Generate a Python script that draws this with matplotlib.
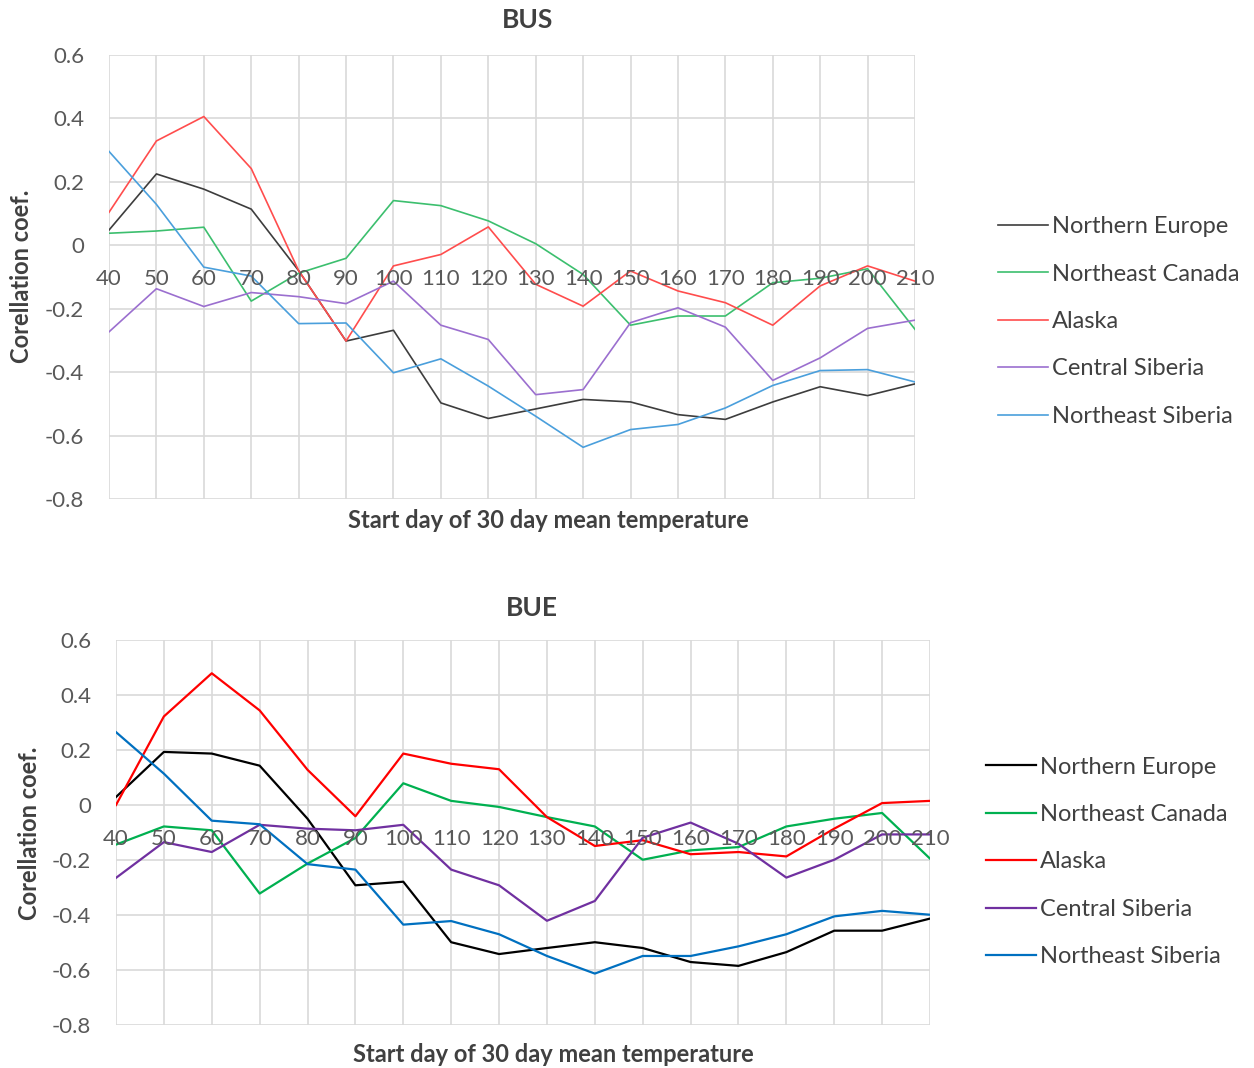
import matplotlib.pyplot as plt
import numpy as np

plt.rcParams['font.family'] = ['Lato', 'DejaVu Sans']

days = [40, 50, 60, 70, 80, 90, 100, 110, 120, 130, 140, 150, 160, 170, 180, 190, 200, 210]
regions = ['Northern Europe', 'Northeast Canada', 'Alaska', 'Central Siberia', 'Northeast Siberia']

# BUS
bus_north_europe = [0.048, 0.225, 0.177, 0.114, -0.08, -0.302, -0.268, -0.497, -0.546, -0.516,
                    -0.486, -0.494, -0.534, -0.549, -0.494, -0.446, -0.474, -0.437]
bus_ne_canada = [0.038, 0.045, 0.057, -0.176, -0.088, -0.041, 0.141, 0.125, 0.077, 0.005,
                 -0.092, -0.252, -0.223, -0.223, -0.118, -0.104, -0.074, -0.265]
bus_alaska = [0.104, 0.329, 0.406, 0.242, -0.08, -0.302, -0.065, -0.029, 0.058, -0.123,
              -0.192, -0.081, -0.144, -0.181, -0.252, -0.128, -0.065, -0.113]
bus_c_siberia = [-0.273, -0.137, -0.193, -0.149, -0.162, -0.184, -0.113, -0.252, -0.297, -0.471,
                 -0.455, -0.244, -0.197, -0.258, -0.426, -0.355, -0.262, -0.236]
bus_ne_siberia = [0.296, 0.129, -0.069, -0.097, -0.247, -0.245, -0.402, -0.358, -0.444, -0.539,
                  -0.637, -0.581, -0.565, -0.513, -0.442, -0.395, -0.392, -0.431]

# BUE
bue_north_europe = [0.029, 0.193, 0.187, 0.143, -0.05, -0.292, -0.279, -0.499, -0.542, -0.52,
                    -0.499, -0.52, -0.571, -0.585, -0.535, -0.457, -0.457, -0.413]
bue_ne_canada = [-0.144, -0.078, -0.092, -0.322, -0.213, -0.12, 0.079, 0.015, -0.007, -0.044,
                 -0.078, -0.199, -0.165, -0.153, -0.078, -0.05, -0.029, -0.195]
bue_alaska = [0.0, 0.322, 0.479, 0.344, 0.128, -0.041, 0.187, 0.15, 0.13, -0.044,
              -0.149, -0.128, -0.179, -0.171, -0.187, -0.086, 0.007, 0.015]
bue_c_siberia = [-0.265, -0.135, -0.171, -0.072, -0.086, -0.092, -0.072, -0.235, -0.292, -0.421,
                 -0.349, -0.119, -0.064, -0.141, -0.264, -0.199, -0.107, -0.107]
bue_ne_siberia = [0.265, 0.114, -0.057, -0.07, -0.215, -0.235, -0.435, -0.422, -0.47, -0.549,
                  -0.613, -0.549, -0.549, -0.514, -0.47, -0.405, -0.385, -0.399]

yticks = [0.6, 0.4, 0.2, 0, -0.2, -0.4, -0.6, -0.8]
ytick_labels = ['0.6', '0.4', '0.2', '0', '-0.2', '-0.4', '-0.6', '-0.8']

colors_bus = ['#3d3d3d', '#3cbf6e', '#ff4d4d', '#9b6fcf', '#4a9fdc']
colors_bue = ['#000000', '#00b050', '#ff0000', '#7030a0', '#0070c0']

W, H = 1254, 1068
fig = plt.figure(figsize=(W / 100, H / 100), dpi=100)


def px(x, y):
    return x / W, 1 - y / H


def draw(rect, title, series, colors, lw, title_xy, xlab_xy, ylab_xy, legend_xy):
    l, t, r, b = rect
    ax = fig.add_axes([l / W, 1 - b / H, (r - l) / W, (b - t) / H])
    x = np.arange(len(days))
    for vals, c, name in zip(series, colors, regions):
        ax.plot(x, vals, color=c, lw=lw, label=name)
    ax.set_xlim(0, len(days) - 1)
    ax.set_ylim(-0.8, 0.6)
    ax.set_xticks(x)
    ax.set_xticklabels([])
    ax.set_yticks(yticks)
    ax.set_yticklabels(ytick_labels)
    ax.tick_params(axis='y', length=0, labelsize=16, labelcolor='#595959', pad=18)
    ax.tick_params(axis='x', length=0)
    ax.grid(True, color='#d9d9d9', lw=1.2)
    ax.set_axisbelow(True)
    for s in ax.spines.values():
        s.set_visible(False)
    # category labels sit on the zero line, Excel style
    for xi, d in zip(x, days):
        ax.annotate(str(d), (xi, 0), xytext=(0, -24.5), textcoords='offset points',
                    ha='center', va='center', fontsize=16, color='#595959')
    fig.text(*px(*title_xy), title, fontsize=19, fontweight='bold', color='#404040',
             ha='center', va='center')
    fig.text(*px(*xlab_xy), 'Start day of 30 day mean temperature', fontsize=17,
             fontweight='bold', color='#404040', ha='center', va='center')
    fig.text(*px(*ylab_xy), 'Corellation coef.', fontsize=17, fontweight='bold',
             color='#404040', ha='center', va='center', rotation=90)
    fig.legend(*ax.get_legend_handles_labels(), loc='center left',
               bbox_to_anchor=px(*legend_xy), frameon=False,
               fontsize=17, handlelength=2.1, handletextpad=0.2, labelspacing=1.12,
               borderpad=0, borderaxespad=0, labelcolor='#404040')
    return ax


draw((109, 55, 915, 499), 'BUS',
     [bus_north_europe, bus_ne_canada, bus_alaska, bus_c_siberia, bus_ne_siberia],
     colors_bus, 1.2, (528, 20), (548, 521), (22, 276), (998, 321.5))
draw((116, 640, 930, 1025), 'BUE',
     [bue_north_europe, bue_ne_canada, bue_alaska, bue_c_siberia, bue_ne_siberia],
     colors_bue, 1.6, (532, 608), (553, 1054), (30, 833), (986, 862))

fig.savefig('out.png', dpi=100)
